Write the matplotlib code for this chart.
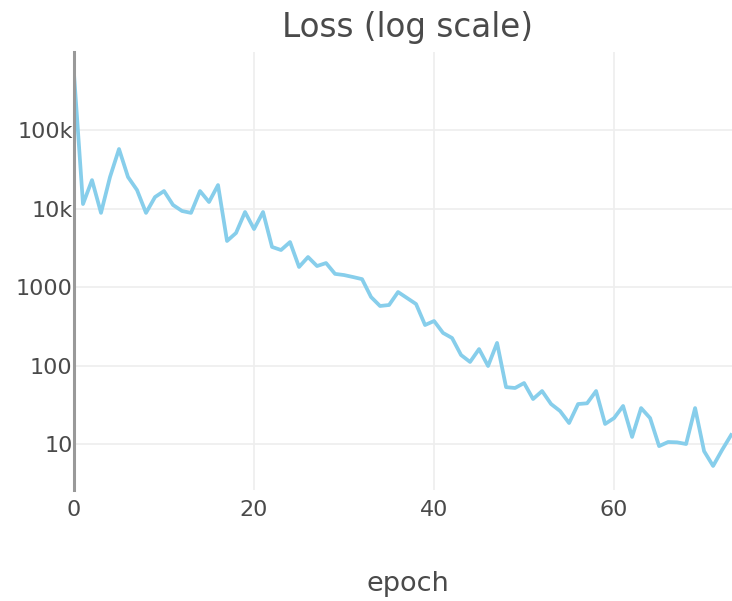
import matplotlib.pyplot as plt
import numpy as np

# loss per epoch
epochs = list(range(74))
loss = [520000, 11400, 23000, 8800, 25200, 57300, 25200, 17200, 8800, 14000,
        16700, 11100, 9300, 8800, 16700, 12100, 19900, 3860, 4880, 9020,
        5480, 9020, 3240, 2960, 3740, 1800, 2410, 1850, 2020, 1470,
        1420, 1340, 1260, 746, 573, 590, 863, 724, 607, 328,
        369, 260, 224, 136, 111, 162, 98.6, 194, 53, 51.7,
        59.8, 37.4, 47.3, 32.3, 26.3, 18.5, 32.3, 33, 47.3, 18.0,
        21.4, 30.5, 12.3, 28.7, 21.4, 9.4, 10.6, 10.5, 10.0, 28.7,
        8.1, 5.25, 8.4, 13.0]

ytick_vals = [10, 100, 1000, 10000, 100000]
ytick_labels = ['10', '100', '1000', '10k', '100k']
xtick_vals = [0, 20, 40, 60]

plt.rcParams['font.family'] = ['DejaVu Sans']

fig = plt.figure(figsize=(7.32, 6.01), dpi=100)
ax = fig.add_axes([74/732, 111/601, 658/732, 438/601])

ax.plot(epochs, loss, color='#87ceeb', lw=2.7, solid_joinstyle='round', zorder=3)

ax.set_yscale('log')
ax.set_xlim(0, 73.1)
ax.set_ylim(10**0.414, 10**5.994)
ax.set_yticks(ytick_vals)
ax.set_yticklabels(ytick_labels)
ax.minorticks_off()
ax.set_xticks(xtick_vals)

ax.grid(True, color='#eeeeee', lw=1.2, zorder=0)
for s in ['top', 'right', 'bottom']:
    ax.spines[s].set_visible(False)
ax.spines['left'].set_color('#999999')
ax.spines['left'].set_linewidth(2.2)
ax.spines['left'].set_zorder(4)

ax.tick_params(axis='both', length=0, labelsize=16, labelcolor='#4a4a4a')
ax.tick_params(axis='y', pad=1)
ax.tick_params(axis='x', pad=7)

fig.text(408/732, 1 - 28/601, 'Loss (log scale)', ha='center', va='center',
         fontsize=23.5, color='#4a4a4a')
fig.text(408/732, 1 - 584/601, 'epoch', ha='center', va='center',
         fontsize=19.5, color='#4a4a4a')

fig.savefig('out.png', dpi=100)
